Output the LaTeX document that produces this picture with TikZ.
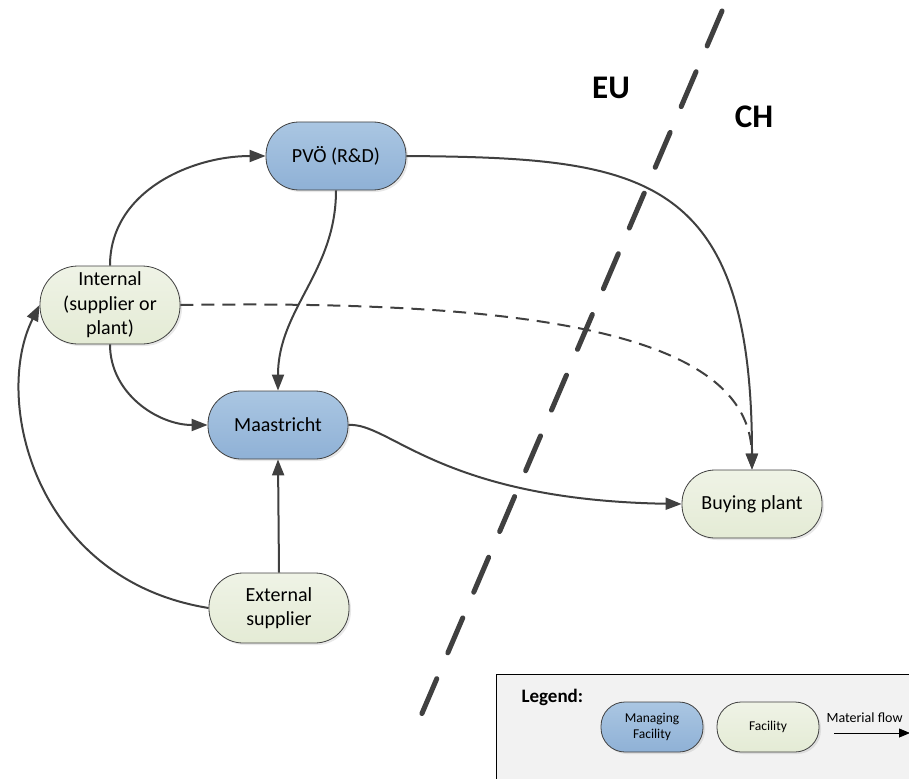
\documentclass[tikz,border=0pt]{standalone}
\usepackage{fontspec}
\setmainfont{Carlito}
\usetikzlibrary{arrows.meta,shadows}
\definecolor{edge}{HTML}{404040}
\definecolor{mgtop}{HTML}{AAC6E2}
\definecolor{mgbot}{HTML}{8FB1D6}
\definecolor{factop}{HTML}{EFF3E6}
\definecolor{facbot}{HTML}{E4EBD5}
\definecolor{legendfill}{HTML}{F2F2F2}
\tikzset{
  fac/.style={rectangle, rounded corners=33pt, draw=edge, line width=0.8pt,
    top color=factop, bottom color=facbot,
    minimum width=140pt, minimum height=68pt, inner sep=0pt,
    align=center, font=\fontsize{20}{24.5}\selectfont,
    drop shadow={shadow xshift=2pt, shadow yshift=-2pt, opacity=0.18}},
  mgr/.style={fac, top color=mgtop, bottom color=mgbot},
  lfac/.style={fac, rounded corners=24pt, minimum width=102pt,
    minimum height=50pt, font=\fontsize{13.5}{16}\selectfont},
  lmgr/.style={lfac, top color=mgtop, bottom color=mgbot},
  flow/.style={draw=edge, line width=2pt,
    -{Triangle[length=16pt,width=12pt]}},
  border/.style={draw=edge, line width=5pt, line cap=round,
    dash pattern=on 38pt off 28pt},
  region/.style={font=\fontsize{33}{38}\selectfont\bfseries},
}
\begin{document}
\begin{tikzpicture}[x=1pt,y=1pt]
\useasboundingbox (0,0) rectangle (909,-778);
\clip (0,0) rectangle (909,-778);

% EU / CH border
\coordinate (bTop) at (722,-11);
\coordinate (bBot) at (420,-718);
\draw[border] (bTop) -- (bBot);
\node[region] (eu) at (611,-88) {EU};
\node[region] (ch) at (754,-117) {CH};

% facilities
\node[mgr] (pvo)  at (336,-156) {PVÖ (R\&D)};
\node[fac, minimum height=78pt, rounded corners=38pt] (int)
  at (110,-305) {Internal\\(supplier or\\plant)};
\node[mgr] (maas) at (278,-425) {Maastricht};
\node[fac] (buy)  at (752,-504) {Buying plant};
\node[fac, minimum height=70pt, rounded corners=34pt] (ext)
  at (279,-608) {External\\supplier};

% material flows
\draw[flow] (int.north) to[out=90,in=180] (pvo.west);
\draw[flow] (pvo.south) to[out=-90,in=90] (maas.north);
\draw[flow] (pvo.east) .. controls (640,-158) and (752,-170) .. (buy.north);
\draw[flow, dash pattern=on 13pt off 8pt] (int.east)
  .. controls (520,-300) and (750,-330) .. (buy.north);
\draw[flow] (int.south) to[out=-90,in=180] (maas.west);
\draw[flow] (maas.east) .. controls (390,-422) and (440,-500) .. (buy.west);
\draw[flow] (ext.north) -- (maas.south);
\draw[flow] (ext.west) .. controls (35,-580) and (-8,-400) .. (int.west);

% legend
\node[draw=black, line width=0.8pt, fill=legendfill, minimum width=430pt,
  minimum height=130pt, anchor=north west] (legend) at (496,-674) {};
\node[font=\fontsize{19}{22}\selectfont\bfseries, anchor=west] (ltitle)
  at (518,-697) {Legend:};
\node[lmgr] (lm) at (652,-727) {Managing\\Facility};
\node[lfac] (lf) at (768,-727) {Facility};
\node[font=\fontsize{14}{16}\selectfont, anchor=west] (lflow)
  at (823,-718) {Material flow};
\coordinate (la) at (834,-733);
\coordinate (lb) at (910,-733);
\draw[line width=0.8pt, -{Triangle[length=11pt,width=9pt]}] (la) -- (lb);
\end{tikzpicture}
\end{document}
